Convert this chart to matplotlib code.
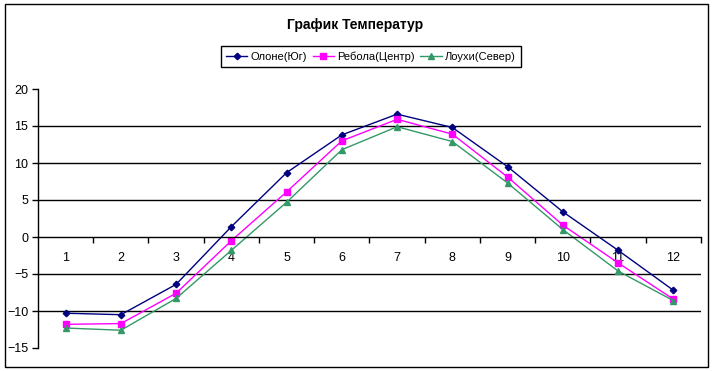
import matplotlib
matplotlib.use("Agg")
import matplotlib.pyplot as plt
from matplotlib.patches import Rectangle

plt.rcParams['font.family'] = ['Liberation Sans', 'DejaVu Sans']

months = [1, 2, 3, 4, 5, 6, 7, 8, 9, 10, 11, 12]
olone = [-10.3, -10.5, -6.4, 1.4, 8.7, 13.8, 16.6, 14.8, 9.5, 3.4, -1.8, -7.2]
rebola = [-11.8, -11.7, -7.6, -0.5, 6.1, 13.0, 15.9, 13.9, 8.1, 1.6, -3.5, -8.4]
louhi = [-12.3, -12.6, -8.3, -1.8, 4.7, 11.8, 14.9, 12.9, 7.3, 1.0, -4.6, -8.6]
series_names = ["Олоне(Юг)", "Ребола(Центр)", "Лоухи(Север)"]
title = "График Температур"

W, H = 713, 371
fig = plt.figure(figsize=(W / 100, H / 100), dpi=100)
ax = fig.add_axes([38 / W, 1 - 348 / H, (701 - 38) / W, (348 - 89) / H])

ax.plot(months, olone, color='#000080', marker='D', markersize=3.3, lw=1, label=series_names[0])
ax.plot(months, rebola, color='#FF00FF', marker='s', markersize=4.2, lw=1, label=series_names[1])
ax.plot(months, louhi, color='#339966', marker='^', markersize=4.2, lw=1, label=series_names[2])

ax.set_xlim(0.5, 12.5)
ax.set_ylim(-15, 20)
ax.set_yticks([-15, -10, -5, 0, 5, 10, 15, 20])
for v in [-10, -5, 5, 10, 15]:
    ax.axhline(v, color='black', lw=1, zorder=0)

ax.spines['top'].set_visible(False)
ax.spines['right'].set_visible(False)
ax.spines['bottom'].set_position(('data', 0))
ax.spines['bottom'].set_linewidth(1)
ax.spines['left'].set_linewidth(1)

ax.set_xticks(months)
ax.set_xticks([m + 0.5 for m in months[:-1]] + [12.5], minor=True)
ax.tick_params(axis='x', which='major', length=0, pad=11, labelsize=9)
ax.tick_params(axis='x', which='minor', length=4, width=1, direction='out')
ax.tick_params(axis='y', length=4, width=1, direction='out', labelsize=9, pad=3)

fig.text(355 / W, 1 - 25 / H, title, ha='center', va='center', fontsize=10, fontweight='bold')

leg = fig.legend(loc='center', bbox_to_anchor=(371 / W, 1 - 56.5 / H), ncol=3,
                 frameon=True, fancybox=False, edgecolor='black', framealpha=1,
                 fontsize=8, handlelength=1.9, handletextpad=0.3, columnspacing=0.5,
                 borderpad=0.45, borderaxespad=0)
leg.get_frame().set_linewidth(1)

fig.patches.append(Rectangle((5 / W, 4 / H), 703 / W, 363 / H, transform=fig.transFigure,
                             fill=False, lw=1, ec='black'))

fig.savefig('out.png', dpi=100)
